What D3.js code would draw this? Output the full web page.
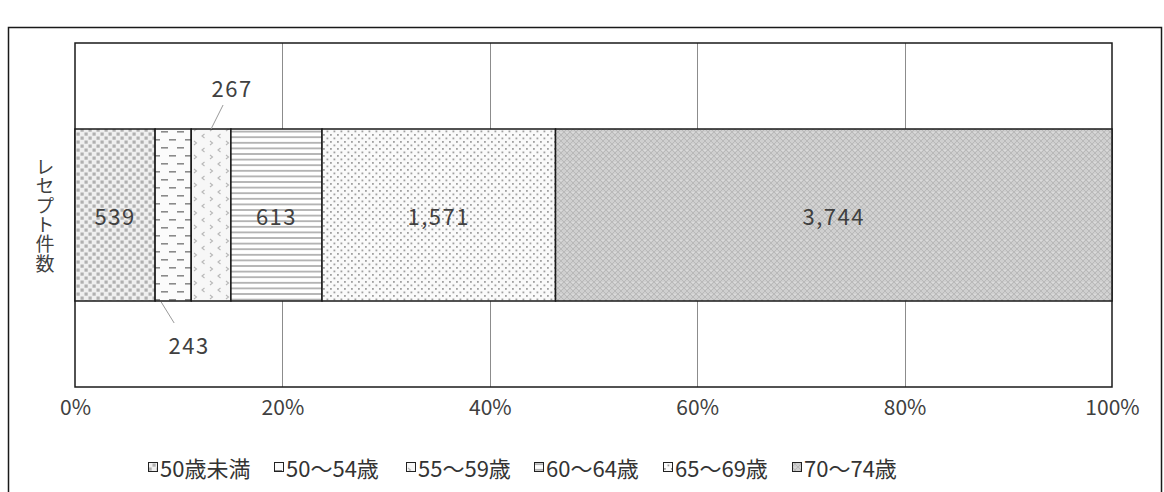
<!DOCTYPE html>
<html>
<head>
<meta charset="utf-8">
<script src="https://cdn.jsdelivr.net/npm/d3@7"></script>
<style>
  html, body { margin: 0; padding: 0; background: #fff; }
  svg { display: block; font-family: "Noto Sans CJK JP", "Noto Sans", sans-serif; }
</style>
</head>
<body>
<svg id="chart" width="1164" height="492"></svg>
<script>
// Receipt counts by age group (one stacked 100% bar)
const categories = ["50歳未満", "50～54歳", "55～59歳", "60～64歳", "65～69歳", "70～74歳"];
const counts = [539, 243, 267, 613, 1571, 3744];
const rowLabel = "レセプト件数";
const tickValues = [0, 0.2, 0.4, 0.6, 0.8, 1.0];

const svg = d3.select("#chart");
const margin = { left: 75, right: 52, top: 43, bottom: 105 };
const W = 1164, H = 492;
const plotW = W - margin.left - margin.right;
const plotH = H - margin.top - margin.bottom;

// ---- fill patterns ----
const defs = svg.append("defs");
const patIds = ["p0", "p1", "p2", "p3", "p4", "p5"];

// 50歳未満: dense gray dots
let p = defs.append("pattern").attr("id", "p0").attr("patternUnits", "userSpaceOnUse")
  .attr("width", 8).attr("height", 8);
p.append("rect").attr("width", 8).attr("height", 8).attr("fill", "#efefef");
p.append("rect").attr("x", 0.5).attr("y", 0.5).attr("width", 3.2).attr("height", 3.2).attr("fill", "#b0b0b0");
p.append("rect").attr("x", 4.5).attr("y", 4.5).attr("width", 3.2).attr("height", 3.2).attr("fill", "#b0b0b0");

// 50～54歳: staggered dashes
p = defs.append("pattern").attr("id", "p1").attr("patternUnits", "userSpaceOnUse")
  .attr("width", 16).attr("height", 16);
p.append("rect").attr("width", 16).attr("height", 16).attr("fill", "#fbfbfb");
p.append("rect").attr("x", 1).attr("y", 3).attr("width", 7).attr("height", 1.6).attr("fill", "#8a8a8a");
p.append("rect").attr("x", 9).attr("y", 11).attr("width", 7).attr("height", 1.6).attr("fill", "#8a8a8a");

// 55～59歳: small chevrons
p = defs.append("pattern").attr("id", "p2").attr("patternUnits", "userSpaceOnUse")
  .attr("width", 16).attr("height", 14);
p.append("rect").attr("width", 16).attr("height", 14).attr("fill", "#f7f7f7");
p.append("path").attr("d", "M2,1 L4.5,3 L2,5").attr("fill", "none").attr("stroke", "#b8b8b8").attr("stroke-width", 1.1);
p.append("path").attr("d", "M12.5,8 L10,10 L12.5,12").attr("fill", "none").attr("stroke", "#b8b8b8").attr("stroke-width", 1.1);

// 60～64歳: horizontal lines
p = defs.append("pattern").attr("id", "p3").attr("patternUnits", "userSpaceOnUse")
  .attr("width", 8).attr("height", 5.6);
p.append("rect").attr("width", 8).attr("height", 5.6).attr("fill", "#ffffff");
p.append("rect").attr("x", 0).attr("y", 2).attr("width", 8).attr("height", 1.6).attr("fill", "#a8a8a8");

// 65～69歳: sparse small dots
p = defs.append("pattern").attr("id", "p4").attr("patternUnits", "userSpaceOnUse")
  .attr("width", 7).attr("height", 7);
p.append("rect").attr("width", 7).attr("height", 7).attr("fill", "#fafafa");
p.append("rect").attr("x", 1).attr("y", 1).attr("width", 1.8).attr("height", 1.8).attr("fill", "#a0a0a0");
p.append("rect").attr("x", 4.5).attr("y", 4.5).attr("width", 1.8).attr("height", 1.8).attr("fill", "#a0a0a0");

// 70～74歳: gray crosshatch
p = defs.append("pattern").attr("id", "p5").attr("patternUnits", "userSpaceOnUse")
  .attr("width", 6).attr("height", 6);
p.append("rect").attr("width", 6).attr("height", 6).attr("fill", "#cfcfcf");
p.append("path").attr("d", "M0,0 L6,6 M6,0 L0,6").attr("stroke", "#b9b9b9").attr("stroke-width", 1);
p.append("rect").attr("x", 2.5).attr("y", 0).attr("width", 1).attr("height", 1).attr("fill", "#e8e8e8");

// ---- outer frame ----
svg.append("rect").attr("x", 8.5).attr("y", 27.5).attr("width", 1153).attr("height", 480)
  .attr("fill", "none").attr("stroke", "#1a1a1a").attr("stroke-width", 1.5);

// ---- scales ----
const total = d3.sum(counts);
const x = d3.scaleLinear().domain([0, 1]).range([margin.left, margin.left + plotW]);
// the single bar occupies the middle half of the plot height
const y = d3.scaleBand().domain([rowLabel]).range([margin.top, margin.top + plotH])
  .paddingInner(0.5).paddingOuter(0.25);

// vertical grid lines
const g = svg.append("g");
g.selectAll("line.grid").data(tickValues.slice(1, -1)).join("line")
  .attr("x1", d => Math.round(x(d)) + 0.5).attr("x2", d => Math.round(x(d)) + 0.5)
  .attr("y1", margin.top).attr("y2", margin.top + plotH)
  .attr("stroke", "#8c8c8c").attr("stroke-width", 1);

// plot area border
svg.append("rect").attr("x", margin.left).attr("y", margin.top)
  .attr("width", plotW).attr("height", plotH)
  .attr("fill", "none").attr("stroke", "#1a1a1a").attr("stroke-width", 1.5);

// x axis tick labels
const xAxis = d3.axisBottom(x).tickValues(tickValues).tickFormat(d3.format(".0%")).tickSize(0).tickPadding(13);
const ax = svg.append("g").attr("transform", `translate(0,${margin.top + plotH})`).call(xAxis);
ax.select(".domain").remove();
ax.selectAll("text").attr("font-size", 21).attr("fill", "#404040")
  .attr("font-family", "'Noto Sans CJK JP', sans-serif");

// ---- stacked segments ----
let cum = 0;
const segs = counts.map((v, i) => {
  const s = { i, v, x0: cum / total, x1: (cum + v) / total };
  cum += v;
  return s;
});

const barTop = y(rowLabel), barH = y.bandwidth();
svg.append("g").selectAll("rect").data(segs).join("rect")
  .attr("x", d => x(d.x0)).attr("y", barTop)
  .attr("width", d => x(d.x1) - x(d.x0)).attr("height", barH)
  .attr("fill", d => `url(#${patIds[d.i]})`)
  .attr("stroke", "#1a1a1a").attr("stroke-width", 1.5);

const fmt = d3.format(",");
const mid = d => (x(d.x0) + x(d.x1)) / 2;
const labelStyle = sel => sel.attr("text-anchor", "middle").attr("dominant-baseline", "central")
  .attr("font-size", 22).attr("letter-spacing", 1.5).attr("fill", "#404040");

// inside labels for wide segments
const inside = segs.filter(d => d.i !== 1 && d.i !== 2);
svg.append("g").selectAll("text").data(inside).join("text")
  .attr("x", d => mid(d)).attr("y", barTop + barH / 2)
  .call(labelStyle)
  .text(d => fmt(d.v));

// callout labels for narrow segments
const s243 = segs[1], s267 = segs[2];
svg.append("line").attr("x1", mid(s243) - 12).attr("y1", barTop + barH + 1)
  .attr("x2", mid(s243) + 1).attr("y2", barTop + barH + 22)
  .attr("stroke", "#9a9a9a").attr("stroke-width", 1);
svg.append("text").attr("x", mid(s243) + 16).attr("y", barTop + barH + 43)
  .call(labelStyle).text(fmt(s243.v));

svg.append("line").attr("x1", mid(s267)).attr("y1", barTop)
  .attr("x2", mid(s267) + 12).attr("y2", barTop - 24)
  .attr("stroke", "#9a9a9a").attr("stroke-width", 1);
svg.append("text").attr("x", mid(s267) + 21).attr("y", barTop - 42)
  .call(labelStyle).text(fmt(s267.v));

// vertical row label
svg.append("text")
  .attr("x", 45).attr("y", 157)
  .attr("font-size", 19).attr("fill", "#404040")
  .style("writing-mode", "vertical-rl").style("text-orientation", "upright")
  .attr("letter-spacing", 0.4)
  .text(rowLabel);

// ---- legend ----
const legendX = [148, 274, 406, 534, 663, 792];
const lg = svg.append("g").selectAll("g").data(categories).join("g")
  .attr("transform", (d, i) => `translate(${legendX[i]},467)`);
lg.append("rect").attr("x", 0.5).attr("y", -4.5).attr("width", 9).attr("height", 9)
  .attr("fill", (d, i) => `url(#${patIds[i]})`).attr("stroke", "#222").attr("stroke-width", 1);
lg.append("text").attr("x", 12).attr("y", 0).attr("dominant-baseline", "central")
  .attr("font-size", 22).attr("fill", "#333").text(d => d);
</script>
</body>
</html>
